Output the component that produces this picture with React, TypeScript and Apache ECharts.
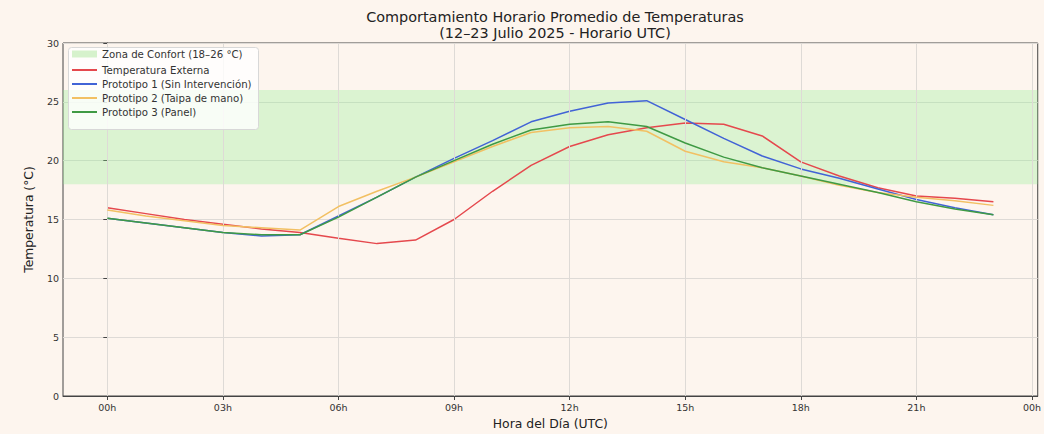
import React, { useEffect, useRef } from "react";
import * as echarts from "echarts";

const hours = [0, 1, 2, 3, 4, 5, 6, 7, 8, 9, 10, 11, 12, 13, 14, 15, 16, 17, 18, 19, 20, 21, 22, 23];
const externa = [16.0, 15.5, 15.0, 14.6, 14.2, 13.9, 13.4, 12.95, 13.25, 15.0, 17.4, 19.6, 21.2, 22.2, 22.8, 23.2, 23.1, 22.1, 19.9, 18.7, 17.7, 17.0, 16.8, 16.5];
const proto1 = [15.1, 14.7, 14.3, 13.9, 13.6, 13.7, 15.3, 16.9, 18.6, 20.2, 21.7, 23.3, 24.2, 24.9, 25.1, 23.5, 21.9, 20.4, 19.3, 18.5, 17.6, 16.7, 16.0, 15.4];
const proto2 = [15.8, 15.3, 14.9, 14.5, 14.3, 14.1, 16.1, 17.4, 18.6, 19.9, 21.2, 22.4, 22.8, 22.9, 22.5, 20.8, 19.9, 19.4, 18.7, 17.9, 17.3, 16.9, 16.6, 16.2];
const proto3 = [15.1, 14.7, 14.3, 13.9, 13.7, 13.7, 15.2, 16.9, 18.6, 20.0, 21.4, 22.6, 23.1, 23.3, 22.9, 21.5, 20.3, 19.4, 18.7, 18.0, 17.3, 16.5, 15.9, 15.4];
const xTicks = [0, 3, 6, 9, 12, 15, 18, 21, 24];
const comfort = [18, 26];

const names = {
  zona: "Zona de Confort (18–26 °C)",
  ext: "Temperatura Externa",
  p1: "Prototipo 1 (Sin Intervención)",
  p2: "Prototipo 2 (Taipa de mano)",
  p3: "Prototipo 3 (Panel)",
};

const FONT = "DejaVu Sans";

export default function App() {
  const ref = useRef<HTMLDivElement>(null);
  useEffect(() => {
    const chart = echarts.init(ref.current!, null, { renderer: "svg" });
    const mk = (arr: number[]) => hours.map((h, i) => [h, arr[i]]);
    const lineSeries = (name: string, data: number[], color: string, z: number) => ({
      name,
      type: "line",
      data: mk(data),
      showSymbol: false,
      symbol: "none",
      z,
      lineStyle: { color, width: 1.5 },
      itemStyle: { color },
    });
    const legendText = { fontFamily: FONT, fontSize: 10.2, color: "#333" };
    chart.setOption({
      animation: false,
      backgroundColor: "#fdf5ee",
      textStyle: { fontFamily: FONT },
      title: {
        text: "Comportamiento Horario Promedio de Temperaturas\n(12–23 Julio 2025 - Horario UTC)",
        left: 550,
        textAlign: "center",
        top: 4,
        textStyle: { fontFamily: FONT, fontSize: 14.4, fontWeight: "normal", color: "#222", lineHeight: 16 },
      },
      graphic: [
        {
          type: "rect",
          left: 68,
          top: 47,
          z: 100,
          shape: { width: 190, height: 82, r: 3 },
          style: { fill: "rgba(255,255,255,0.8)", stroke: "#d8d8d8", lineWidth: 1 },
        },
      ],
      legend: [
        {
          orient: "vertical",
          left: 72,
          top: 49,
          padding: 0,
          itemWidth: 25,
          itemHeight: 7,
          itemGap: 4,
          z: 110,
          textStyle: legendText,
          data: [{ name: names.zona, icon: "rect" }],
        },
        {
          orient: "vertical",
          left: 72,
          top: 65,
          padding: 0,
          itemWidth: 25,
          itemHeight: 2,
          itemGap: 4,
          z: 110,
          textStyle: legendText,
          data: [
            { name: names.ext, icon: "rect" },
            { name: names.p1, icon: "rect" },
            { name: names.p2, icon: "rect" },
            { name: names.p3, icon: "rect" },
          ],
        },
      ],
      grid: { left: 63, right: 6, top: 43, bottom: 37, show: true, borderColor: "#444", borderWidth: 1, backgroundColor: "transparent" },
      xAxis: {
        type: "value",
        min: -1.15,
        max: 24.15,
        name: "Hora del Día (UTC)",
        nameLocation: "middle",
        nameGap: 21,
        nameTextStyle: { fontFamily: FONT, fontSize: 12.4, color: "#222" },
        axisLine: { show: true, onZero: false, lineStyle: { color: "#444" } },
        axisTick: { show: true, customValues: xTicks, length: 4, lineStyle: { color: "#444" } },
        axisLabel: {
          customValues: xTicks,
          fontFamily: FONT,
          fontSize: 9.5,
          color: "#333",
          margin: 6,
          formatter: (v: number) => String(v % 24).padStart(2, "0") + "h",
        },
        splitLine: { show: false },
      },
      yAxis: {
        type: "value",
        min: 0,
        max: 30,
        interval: 5,
        name: "Temperatura (°C)",
        nameLocation: "middle",
        nameGap: 28,
        nameTextStyle: { fontFamily: FONT, fontSize: 12.3, color: "#222" },
        axisLine: { show: true, lineStyle: { color: "#444" } },
        axisTick: { show: true, length: 4, lineStyle: { color: "#444" } },
        axisLabel: { fontFamily: FONT, fontSize: 9.5, color: "#333", margin: 4 },
        splitLine: { show: true, lineStyle: { color: "#dedad6", width: 1 } },
      },
      series: [
        {
          name: names.zona,
          type: "line",
          data: [],
          symbol: "none",
          itemStyle: { color: "#d6f2cc" },
          lineStyle: { width: 0 },
          z: 1,
          markArea: {
            silent: true,
            itemStyle: { color: "rgba(144,238,144,0.3)" },
            data: [[{ yAxis: comfort[0] }, { yAxis: comfort[1] }]],
          },
          markLine: {
            silent: true,
            symbol: "none",
            label: { show: false },
            lineStyle: { color: "#dedad6", width: 1, type: "solid" },
            data: xTicks.map((t) => ({ xAxis: t })),
          },
        },
        lineSeries(names.ext, externa, "#e5484d", 3),
        lineSeries(names.p1, proto1, "#4263d6", 4),
        lineSeries(names.p2, proto2, "#f2c063", 5),
        lineSeries(names.p3, proto3, "#3f9a44", 6),
      ],
    });
    return () => chart.dispose();
  }, []);
  return <div ref={ref} style={{ width: 1044, height: 434, position: "absolute", left: 0, top: 0 }} />;
}
